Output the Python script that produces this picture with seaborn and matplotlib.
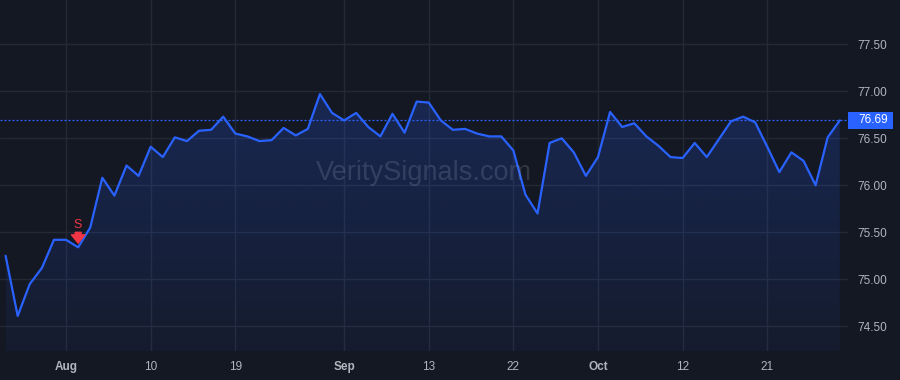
import numpy as np
import matplotlib
matplotlib.use("Agg")
import matplotlib.pyplot as plt
import matplotlib.transforms as mtransforms
from matplotlib.patches import Rectangle
from matplotlib.colors import LinearSegmentedColormap
import seaborn as sns

# ---------------- data ----------------
prices = [75.25, 74.61, 74.95, 75.12, 75.42, 75.42, 75.34, 75.55, 76.08, 75.89,
          76.21, 76.10, 76.41, 76.30, 76.51, 76.47, 76.58, 76.59, 76.73, 76.55,
          76.52, 76.47, 76.48, 76.61, 76.53, 76.60, 76.97, 76.77, 76.69, 76.77,
          76.62, 76.52, 76.76, 76.56, 76.89, 76.88, 76.69, 76.59, 76.60, 76.55,
          76.52, 76.52, 76.37, 75.90, 75.70, 76.45, 76.50, 76.35, 76.10, 76.30,
          76.78, 76.62, 76.66, 76.52, 76.42, 76.30, 76.29, 76.45, 76.30, 76.49,
          76.68, 76.73, 76.67, 76.41, 76.14, 76.35, 76.26, 76.00, 76.51, 76.69]
x_tick_index = [5, 12, 19, 28, 35, 42, 49, 56, 63]
x_tick_labels = ["Aug", "10", "19", "Sep", "13", "22", "Oct", "12", "21"]
month_labels = {"Aug", "Sep", "Oct"}
y_ticks = [74.50, 75.00, 75.50, 76.00, 76.50, 77.00, 77.50]
signal_index = 6
signal_label = "S"
last_price = 76.69
watermark = "VeritySignals.com"

# ---------------- style ----------------
BG = "#141823"
GRID = "#242936"
LINE = "#2962ff"
TXT = "#b2b5be"
RED = "#f23645"

sns.set_theme(style="dark")
plt.rcParams["font.family"] = ["Liberation Sans", "DejaVu Sans"]

fig = plt.figure(figsize=(9, 3.8), dpi=100, facecolor=BG)
ax = fig.add_axes([0, 29 / 380, 848 / 900, 351 / 380])
ax.set_facecolor(BG)

xs = np.arange(len(prices))
y_lo, y_hi = 74.237, 77.971

# gradient area fill
poly = ax.fill_between(xs, prices, y_lo, color="none", lw=0)
grad = np.linspace(0, 1, 256).reshape(-1, 1)
cmap = LinearSegmentedColormap.from_list(
    "g", [(41 / 255, 98 / 255, 1, 0.05), (41 / 255, 98 / 255, 1, 0.22)])
im = ax.imshow(grad, extent=[xs[0], xs[-1], y_lo, max(prices)], origin="lower",
               aspect="auto", cmap=cmap, zorder=1, interpolation="bilinear")
im.set_clip_path(poly.get_paths()[0], transform=ax.transData)

# main line
sns.lineplot(x=xs, y=prices, ax=ax, color=LINE, linewidth=1.6, zorder=3)

# last price dashed line
ax.axhline(last_price, color=LINE, lw=0.9, ls=(0, (1.6, 1.6)), zorder=2)

ax.set_xlim(-0.463, 69.68)
ax.set_ylim(y_lo, y_hi)

# grid & axes
ax.grid(True, color=GRID, lw=1)
ax.set_axisbelow(True)
for s in ax.spines.values():
    s.set_visible(False)

ax.set_xticks(x_tick_index)
ax.set_xticklabels(x_tick_labels)
for lab in ax.get_xticklabels():
    if lab.get_text() in month_labels:
        lab.set_fontweight("bold")
ax.tick_params(axis="x", length=0, pad=7, labelcolor=TXT, labelsize=8.5)

ax.yaxis.tick_right()
ax.set_yticks(y_ticks)
ax.set_yticklabels([f"{v:.2f}" for v in y_ticks])
ax.tick_params(axis="y", length=0, pad=7, labelcolor=TXT, labelsize=8.5)
ax.set_xlabel("")
ax.set_ylabel("")

# last price label box
trans = mtransforms.blended_transform_factory(ax.transAxes, ax.transData)
ax.add_patch(Rectangle((1.0, last_price - 0.09), 45 / 848, 0.18, transform=trans,
                       facecolor=LINE, edgecolor="none", clip_on=False, zorder=5))
ax.text(1.0 + 10 / 848, last_price, f"{last_price:.2f}", transform=trans,
        ha="left", va="center", color="white", fontsize=8.5, zorder=6, clip_on=False)

# watermark
ax.text(0.5, 0.507, watermark, transform=ax.transAxes, ha="center", va="center",
        fontsize=19.5, color="#9aa3b8", alpha=0.22, zorder=4)

# signal marker
sv = prices[signal_index]
ax.annotate("", xy=(signal_index, sv), xytext=(0, 15), textcoords="offset pixels",
            arrowprops=dict(arrowstyle="simple,head_length=0.5,head_width=0.8,tail_width=0.35",
                            mutation_scale=12, color=RED, shrinkA=0, shrinkB=3),
            zorder=6)
ax.annotate(signal_label, xy=(signal_index, sv), xytext=(-1, 22),
            textcoords="offset pixels", ha="center", va="center",
            color=RED, fontsize=9, zorder=6)

fig.savefig("out.png", dpi=100, facecolor=BG)
